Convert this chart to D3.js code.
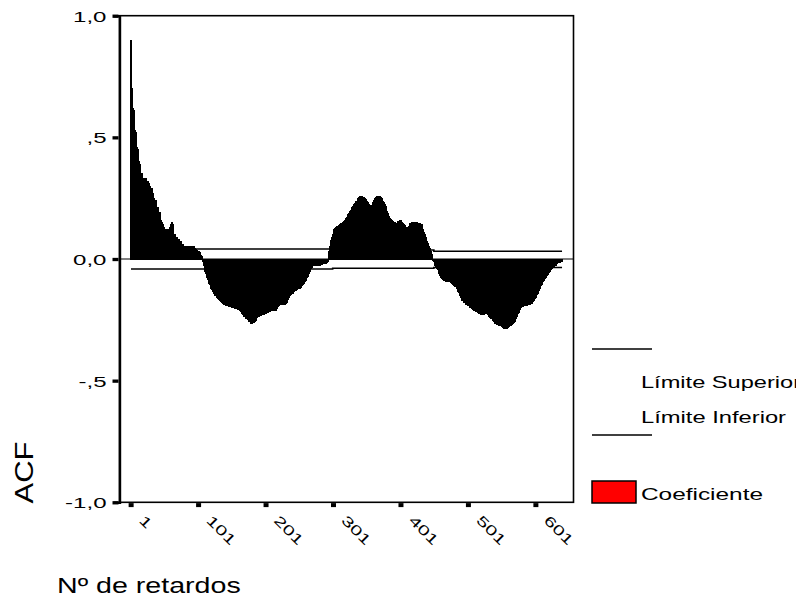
<!DOCTYPE html>
<html>
<head>
<meta charset="utf-8">
<script src="https://cdn.jsdelivr.net/npm/d3@7"></script>
<style>
  html, body { margin: 0; padding: 0; background: #fff; }
  svg { display: block; font-family: "Liberation Sans", Arial, sans-serif; }
</style>
</head>
<body>
<svg id="chart" width="796" height="602"></svg>
<script>
// Autocorrelation coefficients, lags 1..640 (20 per row)
const acf = [
  0.90,0.72,0.70,0.62,0.61,0.60,0.53,0.52,0.51,0.46,0.45,0.44,0.40,0.39,0.39,0.35,0.35,0.34,0.33,0.33,
  0.33,0.32,0.33,0.32,0.32,0.31,0.32,0.31,0.30,0.29,0.29,0.29,0.28,0.27,0.25,0.25,0.24,0.24,0.23,0.21,
  0.21,0.20,0.19,0.19,0.17,0.16,0.15,0.14,0.13,0.13,0.12,0.12,0.12,0.12,0.12,0.12,0.11,0.12,0.13,0.14,
  0.15,0.15,0.14,0.12,0.10,0.10,0.09,0.09,0.09,0.08,0.08,0.08,0.08,0.07,0.07,0.065,0.06,0.06,0.05,0.05,
  0.05,0.05,0.05,0.05,0.05,0.05,0.05,0.05,0.05,0.05,0.05,0.05,0.05,0.05,0.05,0.045,0.04,0.035,0.035,0.03,
  0.03,0.03,0.025,0.02,0.015,0.01,0.005,-0.01,-0.025,-0.038,-0.05,-0.06,-0.066,-0.075,-0.085,-0.093,-0.10,-0.105,-0.112,-0.12,
  -0.125,-0.13,-0.135,-0.14,-0.145,-0.148,-0.152,-0.156,-0.16,-0.163,-0.166,-0.169,-0.172,-0.175,-0.177,-0.18,-0.182,-0.183,-0.185,-0.186,
  -0.188,-0.19,-0.19,-0.192,-0.193,-0.195,-0.196,-0.196,-0.197,-0.198,-0.198,-0.2,-0.2,-0.201,-0.202,-0.203,-0.203,-0.205,-0.206,-0.207,
  -0.208,-0.21,-0.212,-0.216,-0.22,-0.224,-0.228,-0.232,-0.235,-0.237,-0.24,-0.243,-0.246,-0.249,-0.251,-0.255,-0.258,-0.262,-0.265,-0.265,
  -0.264,-0.262,-0.26,-0.258,-0.258,-0.252,-0.245,-0.24,-0.237,-0.236,-0.235,-0.233,-0.232,-0.231,-0.23,-0.23,-0.229,-0.228,-0.226,-0.225,
  -0.222,-0.22,-0.219,-0.218,-0.217,-0.217,-0.216,-0.214,-0.212,-0.21,-0.21,-0.211,-0.21,-0.209,-0.21,-0.21,-0.205,-0.2,-0.195,-0.192,
  -0.19,-0.189,-0.189,-0.188,-0.187,-0.186,-0.186,-0.185,-0.185,-0.185,-0.184,-0.18,-0.172,-0.165,-0.16,-0.155,-0.15,-0.146,-0.142,-0.14,
  -0.14,-0.137,-0.134,-0.131,-0.129,-0.128,-0.126,-0.124,-0.122,-0.121,-0.12,-0.12,-0.118,-0.115,-0.11,-0.105,-0.1,-0.097,-0.093,-0.09,
  -0.085,-0.078,-0.072,-0.066,-0.06,-0.052,-0.045,-0.038,-0.034,-0.03,-0.028,-0.026,-0.025,-0.025,-0.025,-0.024,-0.025,-0.026,-0.025,-0.024,
  -0.025,-0.024,-0.023,-0.022,-0.021,-0.02,-0.02,-0.02,-0.019,-0.02,-0.018,-0.015,-0.01,0.01,0.03,0.05,0.065,0.078,0.09,0.10,
  0.112,0.12,0.125,0.128,0.13,0.132,0.133,0.135,0.137,0.14,0.142,0.144,0.146,0.147,0.15,0.153,0.156,0.16,0.163,0.167,
  0.172,0.177,0.182,0.186,0.188,0.195,0.2,0.207,0.212,0.215,0.22,0.225,0.23,0.233,0.236,0.238,0.242,0.247,0.252,0.255,
  0.256,0.257,0.256,0.255,0.254,0.253,0.252,0.25,0.245,0.24,0.236,0.232,0.228,0.224,0.22,0.216,0.215,0.218,0.225,0.232,
  0.24,0.245,0.25,0.252,0.254,0.255,0.256,0.257,0.256,0.256,0.255,0.252,0.248,0.243,0.238,0.233,0.229,0.222,0.215,0.205,
  0.195,0.188,0.18,0.174,0.168,0.163,0.16,0.158,0.156,0.154,0.152,0.15,0.148,0.147,0.147,0.15,0.153,0.156,0.158,0.16,
  0.157,0.153,0.149,0.145,0.142,0.14,0.136,0.132,0.128,0.126,0.126,0.13,0.135,0.14,0.144,0.146,0.147,0.148,0.149,0.15,
  0.15,0.15,0.15,0.149,0.148,0.147,0.146,0.145,0.144,0.143,0.142,0.14,0.13,0.12,0.11,0.1,0.099,0.09,0.08,0.072,
  0.065,0.058,0.05,0.042,0.035,0.03,0.02,0.01,-0.005,-0.012,-0.018,-0.025,-0.03,-0.034,-0.038,-0.045,-0.052,-0.058,-0.066,-0.07,
  -0.075,-0.079,-0.083,-0.086,-0.088,-0.089,-0.09,-0.091,-0.092,-0.093,-0.093,-0.093,-0.094,-0.094,-0.095,-0.097,-0.1,-0.103,-0.107,-0.11,
  -0.112,-0.114,-0.115,-0.12,-0.126,-0.132,-0.138,-0.141,-0.15,-0.158,-0.165,-0.169,-0.172,-0.175,-0.178,-0.18,-0.183,-0.185,-0.187,-0.189,
  -0.19,-0.193,-0.196,-0.199,-0.201,-0.203,-0.205,-0.207,-0.209,-0.211,-0.213,-0.215,-0.216,-0.217,-0.219,-0.221,-0.223,-0.225,-0.227,-0.229,
  -0.23,-0.23,-0.229,-0.227,-0.225,-0.224,-0.224,-0.224,-0.226,-0.229,-0.232,-0.236,-0.24,-0.243,-0.244,-0.246,-0.25,-0.254,-0.258,-0.262,
  -0.265,-0.266,-0.267,-0.268,-0.27,-0.271,-0.272,-0.272,-0.273,-0.275,-0.278,-0.28,-0.282,-0.284,-0.285,-0.285,-0.285,-0.284,-0.282,-0.28,
  -0.278,-0.276,-0.274,-0.272,-0.27,-0.268,-0.265,-0.262,-0.26,-0.258,-0.252,-0.245,-0.238,-0.23,-0.225,-0.22,-0.213,-0.207,-0.201,-0.197,
  -0.196,-0.195,-0.194,-0.193,-0.192,-0.191,-0.19,-0.19,-0.189,-0.189,-0.189,-0.189,-0.187,-0.184,-0.181,-0.178,-0.175,-0.172,-0.169,-0.163,
  -0.157,-0.151,-0.146,-0.141,-0.135,-0.128,-0.121,-0.114,-0.109,-0.104,-0.099,-0.094,-0.09,-0.086,-0.081,-0.076,-0.071,-0.066,-0.062,-0.058,
  -0.054,-0.05,-0.045,-0.042,-0.04,-0.037,-0.034,-0.032,-0.03,-0.028,-0.025,-0.022,-0.018,-0.016,-0.015,-0.014,-0.013,-0.012,-0.011,-0.01
];

// Lag numbers (categories)
const lags = acf.map((_, i) => i + 1);

// Confidence limits, one value per run of lags
const limitStart = [1, 300, 450];
const limitEnd   = [299, 449, 640];
const upperLimit = [0.041, 0.037, 0.032];
const lowerLimit = [-0.041, -0.038, -0.035];

// Axis ticks and labels
const xTickValues = [1, 101, 201, 301, 401, 501, 601];
const yTickValues = [1, 0.5, 0, -0.5, -1];
const yTickLabels = ["1,0", ",5", "0,0", "-,5", "-1,0"];

// Legend entries and titles
const legendUpper = "Límite Superior";
const legendLower = "Límite Inferior";
const legendCoef  = "Coeficiente";
const yTitle = "ACF";
const xTitle = "Nº de retardos";

const svg = d3.select("#chart");
const plotLeft = 119.5, plotRight = 573.5, plotTop = 15.7, plotBottom = 502.3;

const x = d3.scaleBand().domain(lags).range([plotLeft, plotRight]).paddingInner(0).paddingOuter(16.5);
const y = d3.scaleLinear().domain([-1, 1]).range([plotBottom, plotTop]);
const bw = x.bandwidth();

// Stretch a text element horizontally by factor k
function stretch(sel, k) {
  sel.each(function () {
    const w = this.getComputedTextLength();
    d3.select(this).attr("textLength", w * k).attr("lengthAdjust", "spacingAndGlyphs");
  });
}

// Bars
svg.append("g")
  .attr("shape-rendering", "crispEdges")
  .selectAll("rect")
  .data(acf)
  .join("rect")
  .attr("x", (d, i) => x(lags[i]))
  .attr("width", bw)
  .attr("y", d => y(Math.max(0, d)))
  .attr("height", d => Math.abs(y(d) - y(0)))
  .attr("fill", "#ff0000")
  .attr("stroke", "#000")
  .attr("stroke-width", 1);

// Confidence limit lines (step)
function limitPoints(vals) {
  const pts = limitStart.map((s, i) => [x(s) + bw / 2, y(vals[i])]);
  pts.push([x(limitEnd[limitEnd.length - 1]) + bw / 2, y(vals[vals.length - 1])]);
  return pts;
}
const stepLine = d3.line().curve(d3.curveStepAfter);
[upperLimit, lowerLimit].forEach(vals => {
  svg.append("path")
    .attr("d", stepLine(limitPoints(vals)))
    .attr("fill", "none")
    .attr("stroke", "#000")
    .attr("stroke-width", 1.6);
});

// Zero reference line
svg.append("line")
  .attr("x1", plotLeft).attr("x2", plotRight)
  .attr("y1", y(0)).attr("y2", y(0))
  .attr("stroke", "#000").attr("stroke-width", 1);

// Frame
svg.append("rect")
  .attr("x", plotLeft).attr("y", plotTop)
  .attr("width", plotRight - plotLeft).attr("height", plotBottom - plotTop)
  .attr("fill", "none").attr("stroke", "#000").attr("stroke-width", 1.6);

// Y axis
const yAxis = svg.append("g")
  .attr("transform", `translate(${plotLeft},0)`)
  .call(d3.axisLeft(y).tickValues(yTickValues).tickSize(6).tickPadding(7)
    .tickFormat((d, i) => yTickLabels[i]));
yAxis.select(".domain").attr("stroke", "#000").attr("stroke-width", 2.4);
yAxis.selectAll(".tick line").attr("stroke", "#000").attr("stroke-width", 3.3).attr("x1", -1).attr("x2", -7);
yAxis.selectAll(".tick text")
  .attr("font-size", 15.5).attr("fill", "#000")
  .attr("font-family", "Liberation Sans, Arial, sans-serif")
  .attr("x", -13).attr("dy", "0.36em")
  .call(stretch, 1.55);

// X axis
const xAxis = svg.append("g")
  .attr("transform", `translate(0,${plotBottom})`)
  .call(d3.axisBottom(x).tickValues(xTickValues).tickSize(5).tickFormat(d => String(d)));
xAxis.select(".domain").remove();
xAxis.selectAll(".tick line").attr("stroke", "#000").attr("stroke-width", 5).attr("y1", 0.8).attr("y2", 4.8);
xAxis.selectAll(".tick text")
  .attr("font-size", 14).attr("fill", "#000")
  .attr("font-family", "Liberation Sans, Arial, sans-serif")
  .attr("text-anchor", "start")
  .attr("y", null).attr("dy", null)
  .attr("transform", "translate(7,19) rotate(45)")
  .call(stretch, 1.5);

// Axis titles
svg.append("text")
  .attr("transform", "translate(33,472.5) rotate(-90)")
  .attr("text-anchor", "middle")
  .attr("font-size", 25)
  .text(yTitle)
  .call(stretch, 1.24);

svg.append("text")
  .attr("x", 57).attr("y", 593)
  .attr("font-size", 22)
  .text(xTitle)
  .call(stretch, 1.3);

// Legend
const legend = svg.append("g");
legend.append("line").attr("x1", 592).attr("x2", 652).attr("y1", 349).attr("y2", 349)
  .attr("stroke", "#000").attr("stroke-width", 1.5);
legend.append("text").attr("x", 641).attr("y", 387.5).attr("font-size", 17)
  .attr("textLength", 160).attr("lengthAdjust", "spacingAndGlyphs").text(legendUpper);
legend.append("text").attr("x", 641).attr("y", 422.7).attr("font-size", 17)
  .attr("textLength", 145).attr("lengthAdjust", "spacingAndGlyphs").text(legendLower);
legend.append("line").attr("x1", 592).attr("x2", 652).attr("y1", 435).attr("y2", 435)
  .attr("stroke", "#000").attr("stroke-width", 1.5);
legend.append("rect").attr("x", 592).attr("y", 481).attr("width", 44).attr("height", 22)
  .attr("fill", "#ff0000").attr("stroke", "#000").attr("stroke-width", 1.5);
legend.append("text").attr("x", 641).attr("y", 500).attr("font-size", 17)
  .attr("textLength", 122).attr("lengthAdjust", "spacingAndGlyphs").text(legendCoef);
</script>
</body>
</html>
